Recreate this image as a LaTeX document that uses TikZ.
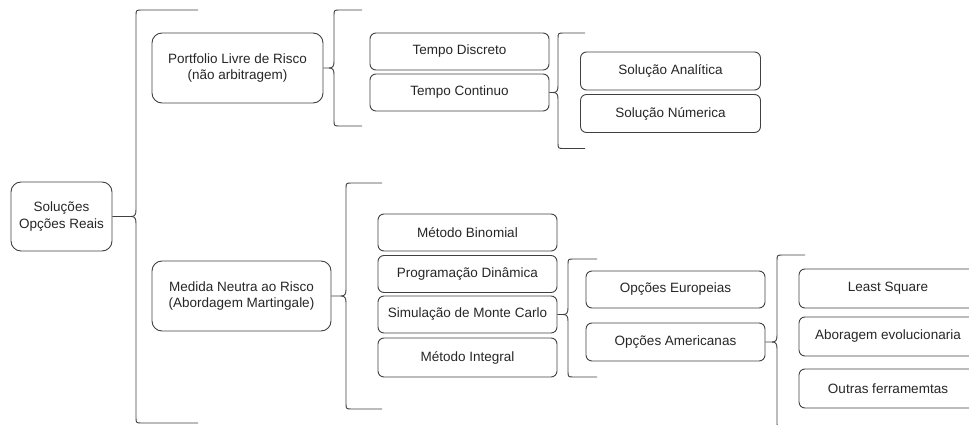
\documentclass[tikz,border=0pt]{standalone}
\usepackage{fontspec}
\setmainfont{Liberation Sans}
\usepackage{tikz}

\begin{document}

\begin{tikzpicture}[x=1pt, y=-1pt]

\tikzset{
  caixa/.style={draw=black!75, text=black!85, line width=0.9pt, rounded corners=6, minimum width=179, minimum height=37, align=center, inner sep=2pt, font=\fontsize{13.5}{16.5}\selectfont},
  caixagrande/.style={caixa, rounded corners=10, minimum height=70},
  chave/.style={draw=black!75, line width=0.9pt}
}

\useasboundingbox (0,0) rectangle (969,425);
\clip (0,0) rectangle (969,425);

\def\chave#1#2#3#4#5{
\begin{scope}[shift={(#1.east -| #2,0)}]
\draw [chave] (#1.east) -- (-5,0) .. controls (-1,0) and (0,-2) .. (0,-7) -- (0,{-#3+6}) .. controls (0,-#3) .. (6,-#3) -- (#5,-#3);
\draw [chave] (-5,0) .. controls (-1,0) and (0,2) .. (0,7) -- (0,{#4-6}) .. controls (0,#4) .. (6,#4) -- (#5,#4);
\end{scope}
}

\node [caixagrande, minimum width=101, minimum height=69] (raiz) at (61.5,216.5) {Soluções\\Opções Reais};

\node [caixagrande, minimum width=171] (portfolio) at (237.5,68) {Portfolio Livre de Risco\\(não arbitragem)};
\node [caixagrande] (medida) at (241.5,296) {Medida Neutra ao Risco\\(Abordagem Martingale)};

\node [caixa] (discreto) at (459.5,51.5) {Tempo Discreto};
\node [caixa] (continuo) at (459.5,92.5) {Tempo Continuo};

\node [caixa, minimum width=180, minimum height=38] (analitica) at (670.5,71) {Solução Analítica};
\node [caixa, minimum width=180, minimum height=38] (numerica) at (670.5,113.5) {Solução Númerica};

\node [caixa] (binomial) at (467.5,232.5) {Método Binomial};
\node [caixa] (dinamica) at (467.5,274) {Programação Dinâmica};
\node [caixa] (montecarlo) at (467.5,314.5) {Simulação de Monte Carlo};
\node [caixa, minimum height=39] (integral) at (467.5,357.5) {Método Integral};

\node [caixa] (europeias) at (675.5,289.5) {Opções Europeias};
\node [caixa, minimum height=38] (americanas) at (675.5,342) {Opções Americanas};

\node [caixa, minimum width=178, minimum height=39] (leastsquare) at (888,288.5) {Least Square};
\node [caixa, minimum width=178, minimum height=39] (evolucionaria) at (888,336.5) {Aboragem evolucionaria};
\node [caixa, minimum width=178, minimum height=39] (outras) at (888,388.5) {Outras ferramemtas};

\chave{raiz}{136}{206.5}{206.5}{62}
\chave{portfolio}{334}{58}{58}{28}
\chave{medida}{346}{113}{113}{36}
\chave{continuo}{558}{59.5}{56}{27}
\chave{montecarlo}{568}{55.5}{62.5}{29}
\chave{americanas}{777}{87}{87}{28}

\end{tikzpicture}

\end{document}
